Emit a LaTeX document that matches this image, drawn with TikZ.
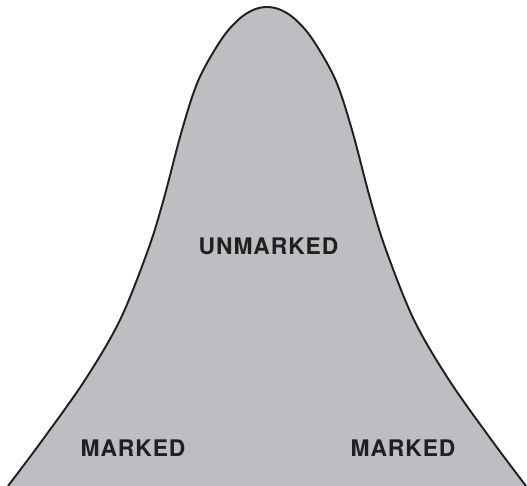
\documentclass[tikz,border=0pt]{standalone}
\usepackage{fontspec}
\newfontfamily\lblfont[LetterSpace=4]{TeX Gyre Heros}
\usepackage{tikz}
\definecolor{bellgray}{RGB}{189,190,194}
\definecolor{inkdark}{RGB}{35,31,32}

\begin{document}
\begin{tikzpicture}[x=0.2mm, y=0.2mm, every node/.style={font=\lblfont\bfseries\fontsize{13}{15}\selectfont, text=inkdark, inner sep=0pt, anchor=base}]
	\useasboundingbox (0,0) rectangle (527,486);
	\def\bellcurve{(8,0) (42.5,46) (85,106) (120,166) (148,236) (163.5,286) (182,356) (198.5,406) (221,446) (238,466) (253,476) (267,479) (281,476) (296,466) (313,446) (335.5,406) (352,356) (370.5,286) (386,236) (414,166) (449,106) (491.5,46) (526,0)}
	\fill[bellgray] plot[smooth, tension=0.55] coordinates {\bellcurve} -- cycle;
	\draw[inkdark, line width=1.1pt] plot[smooth, tension=0.55] coordinates {\bellcurve};
	\node (unmarked) at (268.5,231) {UNMARKED};
	\node (markedl) at (133,29) {MARKED};
	\node (markedr) at (403,29) {MARKED};
\end{tikzpicture}
\end{document}
